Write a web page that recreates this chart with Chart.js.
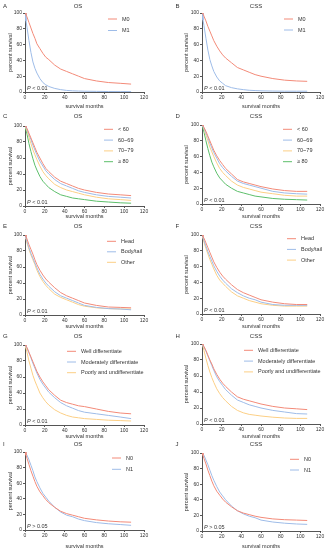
<!DOCTYPE html>
<html>
<head>
<meta charset="utf-8">
<script src="https://cdn.jsdelivr.net/npm/chart.js@4.4.0/dist/chart.umd.min.js"></script>
<style>
  body { margin: 0; background: #fff; }
  #wrap { position: relative; width: 331px; height: 550px; }
  canvas { position: absolute; }
</style>
</head>
<body>
<div id="wrap"></div>
<script>
// follow-up months shared by all curves
var months = [0, 1, 2, 4, 6, 8, 10, 12, 15, 18, 21, 24, 30, 36, 42, 48, 54, 60, 72, 84, 96, 107]

// A / B : M stage
var osM0  = [100, 98, 95, 88, 81, 74, 68, 61, 55, 49, 44, 41, 34, 29, 26, 23, 20, 17, 14, 12, 11, 10]
var osM1  = [100, 90, 82, 65, 50, 38, 30, 24, 17, 12, 9, 7, 4.5, 3, 2, 1.5, 1.2, 1, 0.8, 0.6, 0.5, 0.5]
var cssM0 = [100, 99, 96, 90, 83, 77, 71, 65, 58, 52, 47, 43, 37, 31, 28, 25, 22, 20, 17, 15, 14, 13.5]
var cssM1 = [100, 91, 84, 68, 53, 41, 33, 26, 19, 14, 11, 8, 5.5, 4, 3, 2.2, 1.8, 1.5, 1.2, 1, 1, 1]

// C / D : age
var osAge1  = [100, 99, 97, 91, 85, 79, 73, 67, 60, 53, 47, 43, 36, 31, 28, 25, 22, 20, 17, 15, 14, 13]
var osAge2  = [100, 98, 96, 89, 83, 76, 70, 64, 56, 50, 44, 40, 33, 28, 25, 22, 19, 17, 14, 12, 11, 10]
var osAge3  = [100, 97, 94, 86, 78, 70, 64, 58, 50, 43, 38, 34, 27, 23, 20, 18, 16, 14, 11, 9, 8, 7]
var osAge4  = [100, 95, 90, 78, 68, 59, 51, 45, 37, 31, 27, 23, 18, 14, 12, 10, 9, 8, 6, 5, 4, 3.5]
var cssAge1 = [100, 99, 97, 92, 86, 80, 74, 68, 61, 55, 50, 45, 38, 31, 28, 26, 24, 22, 19, 17, 16, 16]
var cssAge2 = [100, 98, 96, 90, 84, 77, 71, 65, 58, 51, 46, 42, 35, 29, 26, 24, 22, 20, 16, 14, 13, 12.5]
var cssAge3 = [100, 98, 95, 87, 80, 72, 66, 60, 52, 45, 40, 36, 29, 24, 21, 19, 17, 15, 13, 11, 10, 10]
var cssAge4 = [100, 96, 91, 80, 70, 61, 53, 47, 39, 33, 29, 25, 20, 16, 14, 12, 10, 9, 7, 6, 5.5, 5]

// E / F : tumour location
var osHead   = [100, 98, 95, 88, 82, 76, 69, 63, 56, 50, 45, 41, 34, 28, 24, 21, 18, 15, 12, 10, 9.5, 9]
var osBody   = [100, 96, 92, 84, 77, 71, 65, 59, 51, 45, 40, 36, 29, 24, 21, 18, 15, 12, 9.5, 8, 7.5, 6.5]
var osOther  = [100, 95, 90, 82, 75, 69, 63, 56, 48, 42, 37, 33, 26, 22, 19, 16, 13, 11, 9, 8, 7.5, 7.5]
var cssHead  = [100, 98, 96, 90, 84, 78, 72, 66, 59, 53, 48, 44, 37, 31, 27, 24, 21, 18, 15, 13, 12, 12]
var cssBody  = [100, 97, 93, 86, 79, 73, 67, 61, 54, 48, 43, 39, 32, 27, 23, 20, 18, 15, 12, 11, 11, 11]
var cssOther = [100, 96, 91, 83, 76, 69, 63, 57, 49, 43, 39, 35, 28, 23, 20, 17, 15, 13, 11, 10, 10, 10]

// G / H : grade
var osWell   = [100, 99, 97, 91, 85, 79, 73, 67, 60, 54, 49, 44, 37, 31, 28, 26, 24, 23, 20, 17, 15, 14]
var osMod    = [100, 98, 96, 90, 84, 77, 71, 65, 57, 51, 46, 41, 34, 28, 24, 21, 18, 16, 14, 12, 10, 8]
var osPoor   = [100, 96, 91, 80, 71, 62, 55, 49, 40, 34, 29, 25, 19, 15, 12, 10, 9, 8, 7, 6, 5.5, 5]
var cssWell  = [100, 99, 97, 92, 86, 80, 75, 69, 62, 56, 51, 47, 40, 34, 31, 29, 27, 25, 22, 20, 19, 18]
var cssMod   = [100, 98, 96, 91, 85, 79, 73, 67, 59, 53, 48, 43, 36, 30, 27, 24, 22, 20, 17, 15, 13, 12.5]
var cssPoor  = [100, 97, 92, 82, 73, 65, 58, 52, 44, 38, 33, 29, 22, 17, 14, 12, 11, 10, 8.5, 7.5, 7, 7]

// I / J : N stage
var osN0  = [100, 96, 92, 84, 76, 69, 62, 56, 49, 44, 39, 35, 29, 24, 21, 19, 17, 15, 13, 11.5, 10.5, 10]
var osN1  = [100, 98, 96, 90, 83, 76, 68, 62, 54, 47, 42, 37, 29, 23, 19, 17, 14, 12, 9.5, 8, 7, 6]
var cssN0 = [100, 97, 93, 86, 78, 71, 64, 58, 51, 46, 41, 37, 31, 26, 23, 21, 19, 17.5, 15.5, 14.5, 14, 13.5]
var cssN1 = [100, 99, 97, 91, 85, 78, 71, 65, 57, 50, 45, 40, 32, 26, 22, 19, 17, 14, 11.5, 10, 9, 8.5]

var labelsM     = ['M0', 'M1']
var labelsAge   = ['< 60', '60~69', '70~79', '\u2265 80']
var labelsSite  = ['Head', 'Body/tail', 'Other']
var labelsGrade = ['Well differentiate', 'Moderately differentiate', 'Poorly and undifferentiate']
var labelsN     = ['N0', 'N1']

var RED = '#f38a78', BLUE = '#9ebce8', ORANGE = '#fccf85', GREEN = '#5dbf6b'
var FONT = '"Liberation Sans", Arial, sans-serif'

var panels = [
  { id: 'A', title: 'OS',  p: '< 0.01', col: 0, row: 0, top: 13, bottom: 92, lx: 83, ly: 6,   sp: 11.5, series: [osM0, osM1], labels: labelsM, colors: [RED, BLUE] },
  { id: 'B', title: 'CSS', p: '< 0.01', col: 1, row: 0, top: 13, bottom: 92, lx: 82, ly: 6,   sp: 11,   series: [cssM0, cssM1], labels: labelsM, colors: [RED, BLUE] },
  { id: 'C', title: 'OS',  p: '< 0.01', col: 0, row: 1, top: 16, bottom: 96, lx: 79, ly: 3.3, sp: 10.8, series: [osAge1, osAge2, osAge3, osAge4], labels: labelsAge, colors: [RED, BLUE, ORANGE, GREEN] },
  { id: 'D', title: 'CSS', p: '< 0.01', col: 1, row: 1, top: 15, bottom: 94, lx: 81, ly: 4.3, sp: 10.8, series: [cssAge1, cssAge2, cssAge3, cssAge4], labels: labelsAge, colors: [RED, BLUE, ORANGE, GREEN] },
  { id: 'E', title: 'OS',  p: '< 0.01', col: 0, row: 2, top: 15, bottom: 95, lx: 82, ly: 6.3, sp: 10.5, series: [osHead, osBody, osOther], labels: labelsSite, colors: [RED, BLUE, ORANGE] },
  { id: 'F', title: 'CSS', p: '< 0.01', col: 1, row: 2, top: 15, bottom: 94, lx: 85, ly: 3.7, sp: 10.7, series: [cssHead, cssBody, cssOther], labels: labelsSite, colors: [RED, BLUE, ORANGE] },
  { id: 'G', title: 'OS',  p: '< 0.01', col: 0, row: 3, top: 15, bottom: 95, lx: 42, ly: 6.3, sp: 10.7, series: [osWell, osMod, osPoor], labels: labelsGrade, colors: [RED, BLUE, ORANGE] },
  { id: 'H', title: 'CSS', p: '< 0.01', col: 1, row: 3, top: 14, bottom: 94, lx: 42, ly: 6.3, sp: 10.8, series: [cssWell, cssMod, cssPoor], labels: labelsGrade, colors: [RED, BLUE, ORANGE] },
  { id: 'I', title: 'OS',  p: '> 0.05', col: 0, row: 4, top: 12, bottom: 90, lx: 87, ly: 6,   sp: 11.3, series: [osN0, osN1], labels: labelsN, colors: [RED, BLUE] },
  { id: 'J', title: 'CSS', p: '> 0.05', col: 1, row: 4, top: 13, bottom: 91, lx: 88, ly: 6.3, sp: 10.7, series: [cssN0, cssN1], labels: labelsN, colors: [RED, BLUE] }
]

// legend, P value, panel letter and title
var overlay = {
  id: 'overlay',
  afterDraw: function (chart, args, o) {
    var ctx = chart.ctx, a = chart.chartArea
    ctx.save()
    ctx.textBaseline = 'middle'
    ctx.fillStyle = '#333'
    ctx.font = '6px ' + FONT
    ctx.textAlign = 'left'
    ctx.fillText(o.letter, o.letterX, o.headY)
    ctx.textAlign = 'center'
    ctx.fillText(o.title, o.titleX, o.headY)
    ctx.textAlign = 'left'
    ctx.font = '5.5px ' + FONT
    chart.data.datasets.forEach(function (ds, i) {
      var x = a.left + o.lx, y = a.top + o.ly + i * o.sp
      ctx.strokeStyle = ds.borderColor
      ctx.lineWidth = 1
      ctx.beginPath(); ctx.moveTo(x, y); ctx.lineTo(x + 9, y); ctx.stroke()
      ctx.fillText(ds.label, x + 14, y)
    })
    ctx.font = 'italic 5.5px ' + FONT
    ctx.fillText('P', a.left + 2, a.bottom - 4)
    var w = ctx.measureText('P ').width
    ctx.font = '5.5px ' + FONT
    ctx.fillText(o.p, a.left + 2 + w, a.bottom - 4)
    ctx.restore()
  }
}

var wrap = document.getElementById('wrap')

panels.forEach(function (pn) {
  var W = pn.col === 0 ? 166 : 165
  var H = 110
  var padL = pn.col === 0 ? 7 : 17
  var axisW = pn.col === 0 ? 18 : 19
  var right = pn.col === 0 ? 144 : 154

  var cv = document.createElement('canvas')
  cv.width = W; cv.height = H
  cv.style.left = (pn.col * 166) + 'px'
  cv.style.top = (pn.row * 110) + 'px'
  cv.style.width = W + 'px'; cv.style.height = H + 'px'
  wrap.appendChild(cv)

  var datasets = pn.series.map(function (vals, i) {
    return {
      label: pn.labels[i],
      data: months.map(function (m, k) { return { x: m, y: vals[k] } }),
      borderColor: pn.colors[i],
      borderWidth: 1,
      pointRadius: 0,
      fill: false,
      tension: 0
    }
  })

  var tickFont = { size: 5, family: FONT }

  new Chart(cv.getContext('2d'), {
    type: 'line',
    data: { datasets: datasets },
    options: {
      responsive: false,
      animation: false,
      devicePixelRatio: 1,
      layout: { padding: { left: padL, top: pn.top, right: W - right, bottom: 0 } },
      plugins: {
        legend: { display: false },
        tooltip: { enabled: false },
        overlay: {
          letter: pn.id, title: pn.title, p: pn.p,
          letterX: pn.col === 0 ? 3 : 9.5,
          titleX: pn.col === 0 ? 78 : 90,
          headY: pn.row === 4 ? 4.5 : 6,
          lx: pn.lx, ly: pn.ly, sp: pn.sp
        }
      },
      scales: {
        x: {
          type: 'linear', min: 0, max: 120,
          ticks: { stepSize: 20, font: tickFont, color: '#333', padding: 1, maxRotation: 0 },
          grid: { drawOnChartArea: false, tickLength: 2, color: '#555' },
          border: { color: '#555', width: 1 },
          title: { display: true, text: 'survival months', font: { size: 5.5, family: FONT }, color: '#333', padding: 0 },
          afterFit: function (s) { s.height = H - pn.bottom }
        },
        y: {
          min: 0, max: 100,
          ticks: { stepSize: 20, font: tickFont, color: '#333', padding: 1 },
          grid: { drawOnChartArea: false, tickLength: 2, color: '#555' },
          border: { color: '#555', width: 1 },
          title: { display: true, text: 'percent survival', font: { size: 5.5, family: FONT }, color: '#333', padding: 0 },
          afterFit: function (s) { s.width = axisW }
        }
      }
    },
    plugins: [overlay]
  })
})
</script>
</body>
</html>
